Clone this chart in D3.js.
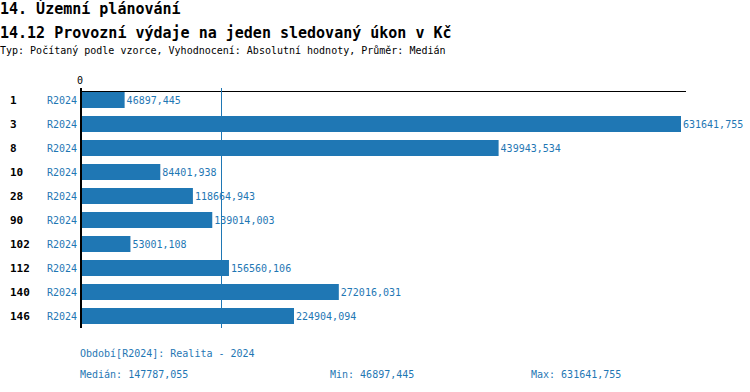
<!DOCTYPE html>
<html>
<head>
<meta charset="utf-8">
<script src="https://cdn.jsdelivr.net/npm/d3@7"></script>
<style>
  body { margin: 0; background: #fff; }
</style>
</head>
<body>
<div id="chart"></div>
<script>
// data
var categories = ["1", "3", "8", "10", "28", "90", "102", "112", "140", "146"];
var periods = ["R2024", "R2024", "R2024", "R2024", "R2024", "R2024", "R2024", "R2024", "R2024", "R2024"];
var values = [46897.445, 631641.755, 439943.534, 84401.938, 118664.943, 139014.003, 53001.108, 156560.106, 272016.031, 224904.094];
var median = 147787.055;
var minVal = 46897.445;
var maxVal = 631641.755;

var title1 = "14. Územní plánování";
var title2 = "14.12 Provozní výdaje na jeden sledovaný úkon v Kč";
var subtitle = "Typ: Počítaný podle vzorce, Vyhodnocení: Absolutní hodnoty, Průměr: Medián";
var periodNote = "Období[R2024]: Realita - 2024";

var blue = "#1f77b4";
var mono = "DejaVu Sans Mono";
var width = 750, height = 392;

var czech = d3.formatLocale({ decimal: ",", thousands: "", grouping: [3], currency: ["", " Kč"] });
var fmt = czech.format(".3f");

var svg = d3.select("#chart")
  .append("svg")
  .attr("width", width)
  .attr("height", height);

function label(x, y, txt, size, color, bold) {
  return svg.append("text")
    .attr("x", x).attr("y", y)
    .style("font-family", mono)
    .style("font-size", size + "px")
    .style("font-weight", bold ? "bold" : "normal")
    .attr("fill", color || "#000")
    .text(txt);
}

// titles
label(0, 14, title1, 15, "#000", true);
label(0, 38, title2, 15, "#000", true);
label(0, 54, subtitle, 10, "#000", false);

// scales
var x = d3.scaleLinear()
  .domain([0, d3.max(values)])
  .range([80, 681]);

var y = d3.scaleBand()
  .domain(categories)
  .range([88, 328])
  .paddingInner(1 / 3)
  .paddingOuter(1 / 6);

var rows = categories.map(function (c, i) {
  return { cat: c, period: periods[i], value: values[i] };
});

// top axis line + zero label
svg.append("line")
  .attr("x1", x(0)).attr("x2", 686)
  .attr("y1", 91.5).attr("y2", 91.5)
  .attr("stroke", "#000").attr("stroke-width", 1);
label(x(0), 84, "0", 10, "#000", false).attr("text-anchor", "middle");

// median line
svg.append("line")
  .attr("x1", Math.round(x(median)) + 0.5).attr("x2", Math.round(x(median)) + 0.5)
  .attr("y1", 88).attr("y2", 328)
  .attr("stroke", blue).attr("stroke-width", 1);

// bars
svg.selectAll("rect.bar")
  .data(rows)
  .enter()
  .append("rect")
  .attr("class", "bar")
  .attr("x", x(0))
  .attr("y", function (d) { return y(d.cat); })
  .attr("width", function (d) { return x(d.value) - x(0); })
  .attr("height", y.bandwidth())
  .attr("fill", blue);

rows.forEach(function (d) {
  var cy = y(d.cat) + y.bandwidth() / 2 + 3.5;
  // value label
  label(x(d.value) + 2, cy, fmt(d.value), 10, blue, false);
  // category label
  label(10, cy, d.cat, 11, "#000", true);
  // period label
  label(77, cy, d.period, 10, blue, false).attr("text-anchor", "end");
});

// vertical axis line
svg.append("line")
  .attr("x1", 81).attr("x2", 81)
  .attr("y1", 88).attr("y2", 328)
  .attr("stroke", "#000").attr("stroke-width", 2);

// footer
label(80, 357, periodNote, 10, blue, false);
label(80, 378, "Medián: " + fmt(median), 10, blue, false);
label(330, 378, "Min: " + fmt(minVal), 10, blue, false);
label(531, 378, "Max: " + fmt(maxVal), 10, blue, false);
</script>
</body>
</html>
